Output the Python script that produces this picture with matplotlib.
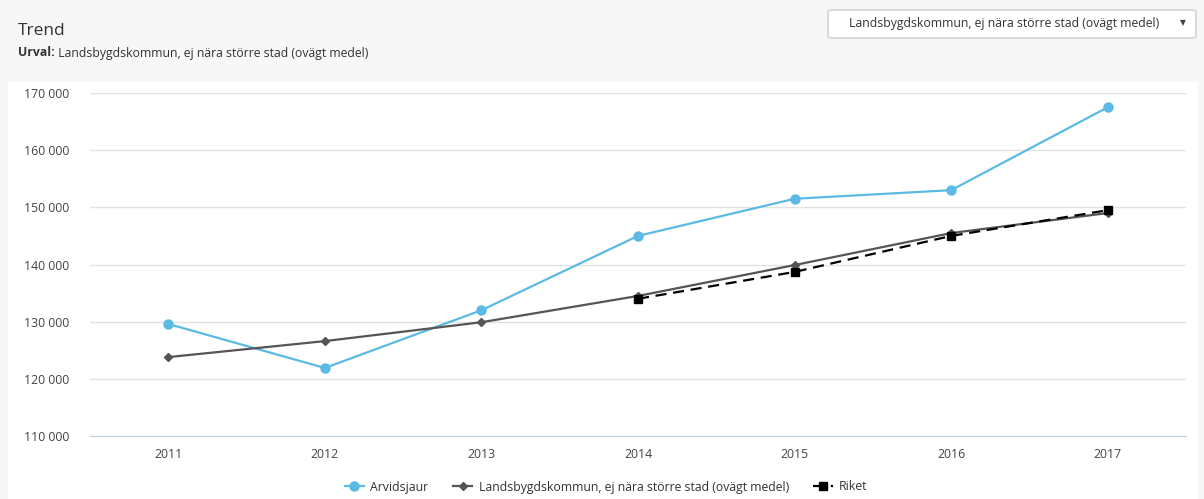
import matplotlib.pyplot as plt
from matplotlib.patches import FancyBboxPatch, Rectangle
import numpy as np

years = ['2011', '2012', '2013', '2014', '2015', '2016', '2017']
arvidsjaur = [129600, 121900, 132000, 145000, 151500, 153000, 167500]
landsbygd = [123800, 126600, 129900, 134500, 139900, 145500, 149000]
riket_years = ['2014', '2015', '2016', '2017']
riket = [134000, 138700, 145000, 149500]

plt.rcParams['font.family'] = ['Open Sans', 'DejaVu Sans']

fig = plt.figure(figsize=(12.04, 4.99), dpi=100)
fig.patch.set_facecolor('#f7f7f7')

# white panel behind the chart
fig.add_artist(Rectangle((8 / 1204, 0), 1190 / 1204, 1 - 82 / 499,
                         transform=fig.transFigure, facecolor='white',
                         edgecolor='none', zorder=0))

fig.text(18 / 1204, 1 - 31 / 499, 'Trend', fontsize=12.5, color='#333333', va='center')
urval = fig.text(18 / 1204, 1 - 53 / 499, 'Urval:', fontsize=8.8, fontweight='bold',
                 color='#333333', va='center')
fig.add_artist(plt.Annotation(' Landsbygdskommun, ej nära större stad (ovägt medel)',
                              xy=(1, 0.5), xycoords=urval, fontsize=8.8,
                              color='#333333', va='center'))

# dropdown box
fig.add_artist(FancyBboxPatch((828 / 1204, 1 - 38 / 499), 368 / 1204, 28 / 499,
                              boxstyle='round,pad=0,rounding_size=0.004',
                              transform=fig.transFigure, facecolor='white',
                              edgecolor='#cccccc', linewidth=1))
fig.text(1004 / 1204, 1 - 24 / 499, 'Landsbygdskommun, ej nära större stad (ovägt medel)',
         fontsize=8.8, color='#333333', ha='center', va='center')
fig.text(1183 / 1204, 1 - 24 / 499, '▼', fontsize=5.5, color='#444444',
         ha='center', va='center')

ax = fig.add_axes([90 / 1204, 1 - 436 / 499, 1096 / 1204, 343 / 499])
ax.set_facecolor('white')
x = np.arange(len(years))
xr = [years.index(y) for y in riket_years]

ax.plot(x, arvidsjaur, color='#5bbae3', lw=1.6, marker='o', ms=6.5,
        label='Arvidsjaur', zorder=3)
ax.plot(x, landsbygd, color='#555555', lw=1.6, marker='D', ms=4,
        label='Landsbygdskommun, ej nära större stad (ovägt medel)', zorder=4)
ax.plot(xr, riket, color='black', lw=1.6, ls=(0, (5, 3)), marker='s', ms=6,
        label='Riket', zorder=5)

ax.set_xlim(-0.5, len(years) - 0.5)
ax.set_ylim(110000, 170000)
ax.set_xticks(x)
ax.set_xticklabels(years)
ax.set_yticks(np.arange(110000, 170001, 10000))
ax.set_yticklabels([f'{v // 1000} 000' for v in range(110000, 170001, 10000)])
ax.tick_params(length=0, labelsize=8.8, colors='#444444')
ax.tick_params(axis='y', pad=15)
ax.tick_params(axis='x', pad=9)
ax.grid(axis='y', color='#e2e2e2', lw=1)
ax.set_axisbelow(True)
for s in ['top', 'right', 'left']:
    ax.spines[s].set_visible(False)
ax.spines['bottom'].set_color('#c0d0e0')

leg = fig.legend(loc='center', bbox_to_anchor=(606 / 1204, 1 - 487 / 499), ncol=3,
                 frameon=False, fontsize=8.8, handlelength=1.6, columnspacing=2.0,
                 handletextpad=0.5)
for t in leg.get_texts():
    t.set_color('#333333')

fig.savefig('out.png', dpi=100, facecolor=fig.get_facecolor())
